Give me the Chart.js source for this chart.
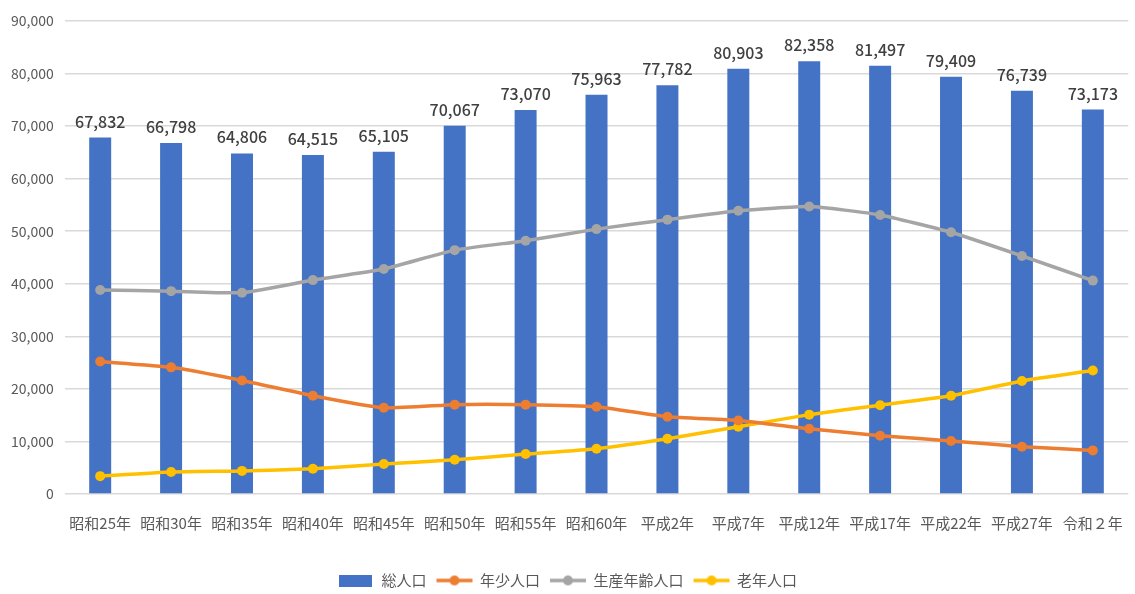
<!DOCTYPE html>
<html>
<head>
<meta charset="utf-8">
<script src="https://cdn.jsdelivr.net/npm/chart.js@4/dist/chart.umd.min.js"></script>
<style>
  html, body { margin: 0; padding: 0; background: #fff; }
  #wrap { width: 1135px; height: 594px; }
</style>
</head>
<body>
<div id="wrap"><canvas id="grafica"></canvas></div>
<script>
// datos
const nendo = ["昭和25年","昭和30年","昭和35年","昭和40年","昭和45年","昭和50年","昭和55年","昭和60年","平成2年","平成7年","平成12年","平成17年","平成22年","平成27年","令和２年"];
const souJinko = [67832,66798,64806,64515,65105,70067,73070,75963,77782,80903,82358,81497,79409,76739,73173];
const nenshoJinko = [25200,24100,21600,18700,16400,17000,17000,16600,14700,14000,12400,11100,10100,9000,8300];
const seisanJinko = [38800,38600,38300,40700,42800,46400,48200,50400,52200,53900,54700,53100,49800,45300,40600];
const rojinJinko = [3400,4200,4400,4800,5700,6500,7600,8600,10500,12800,15100,16900,18700,21500,23500];

const fuente = '"Noto Sans CJK JP", "Noto Sans", sans-serif';

// icono de leyenda: linea con marcador
function iconoLinea(color) {
    let c = document.createElement("canvas");
    c.width = 38; c.height = 14;
    let ctx = c.getContext("2d");
    ctx.strokeStyle = color;
    ctx.lineWidth = 3.5;
    ctx.beginPath(); ctx.moveTo(1, 7); ctx.lineTo(37, 7); ctx.stroke();
    ctx.fillStyle = color;
    ctx.beginPath(); ctx.arc(19, 7, 5, 0, Math.PI * 2); ctx.fill();
    return c;
}
function iconoBarra(color) {
    let c = document.createElement("canvas");
    c.width = 33; c.height = 12;
    let ctx = c.getContext("2d");
    ctx.fillStyle = color;
    ctx.fillRect(0, 0, 33, 12);
    return c;
}

// etiquetas encima de las barras
const etiquetas = {
    id: "etiquetas",
    afterDatasetsDraw(chart) {
        let ctx = chart.ctx;
        let meta = chart.getDatasetMeta(0);
        ctx.save();
        ctx.font = "500 16px " + fuente;
        ctx.fillStyle = "#404040";
        ctx.textAlign = "center";
        ctx.textBaseline = "bottom";
        meta.data.forEach((bar, i) => {
            ctx.fillText(souJinko[i].toLocaleString("en-US"), bar.x, bar.y - 8);
        });
        ctx.restore();
    }
};

const linea = (label, data, color) => ({
    type: "line",
    label: label,
    data: data,
    borderColor: color,
    backgroundColor: color,
    borderWidth: 3.5,
    pointRadius: 5,
    pointHoverRadius: 5,
    pointBackgroundColor: color,
    pointBorderWidth: 0,
    tension: 0.15,
    order: 1
});

new Chart(document.getElementById("grafica"), {
    data: {
        labels: nendo,
        datasets: [
            {
                type: "bar",
                label: "総人口",
                data: souJinko,
                backgroundColor: "#4472C4",
                categoryPercentage: 1,
                barPercentage: 0.31,
                order: 5
            },
            linea("年少人口", nenshoJinko, "#ED7D31"),
            linea("生産年齢人口", seisanJinko, "#A5A5A5"),
            linea("老年人口", rojinJinko, "#FFC000")
        ]
    },
    options: {
        responsive: true,
        maintainAspectRatio: false,
        animation: false,
        layout: { padding: { top: 21, right: 0, left: 0, bottom: -4 } },
        scales: {
            x: {
                grid: { display: false },
                border: { display: false },
                ticks: { color: "#595959", font: { family: fuente, size: 15 }, padding: 12, maxRotation: 0, autoSkip: false },
                afterFit: scale => { scale.height += 19; }
            },
            y: {
                min: 0,
                max: 90000,
                grid: { color: "#d9d9d9", lineWidth: 1.5, drawTicks: false },
                border: { display: false },
                ticks: {
                    stepSize: 10000,
                    color: "#595959",
                    padding: 11,
                    font: { family: fuente, size: 14 },
                    callback: v => v.toLocaleString("en-US")
                }
            }
        },
        plugins: {
            tooltip: { enabled: false },
            legend: {
                position: "bottom",
                labels: {
                    usePointStyle: true,
                    pointStyleWidth: 36,
                    color: "#595959",
                    font: { family: fuente, size: 15 },
                    padding: 10,
                    generateLabels: chart => chart.data.datasets.map((ds, i) => ({
                        text: ds.label,
                        fontColor: "#595959",
                        pointStyle: i === 0 ? iconoBarra(ds.backgroundColor) : iconoLinea(ds.borderColor),
                        datasetIndex: i,
                        lineWidth: 0,
                        strokeStyle: "transparent",
                        fillStyle: ds.backgroundColor
                    }))
                }
            }
        }
    },
    plugins: [etiquetas]
});
</script>
</body>
</html>
